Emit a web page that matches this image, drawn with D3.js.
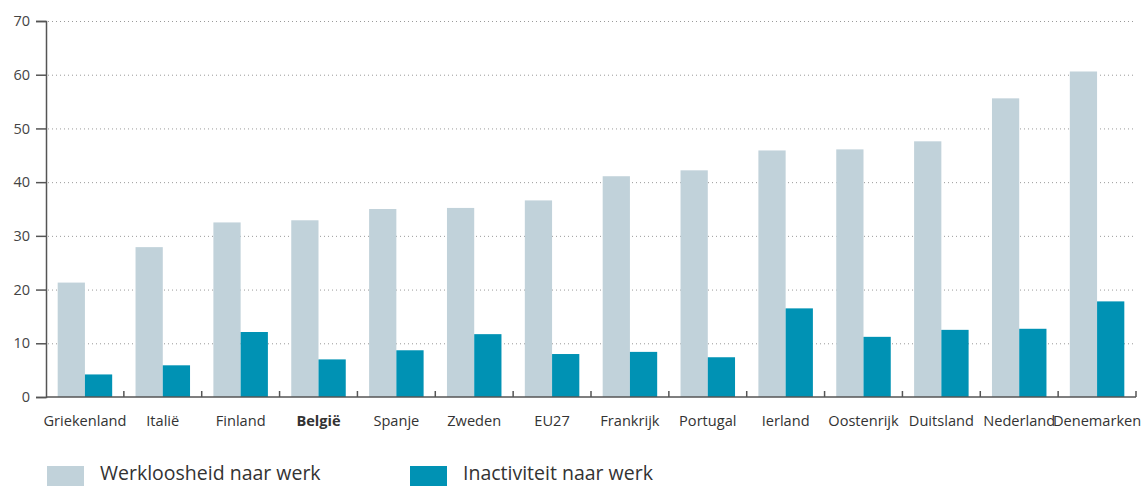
<!DOCTYPE html>
<html>
<head>
<meta charset="utf-8">
<script src="https://cdn.jsdelivr.net/npm/d3@7"></script>
<style>
  body { margin: 0; background: #fff; }
  text { font-family: "Open Sans", "Noto Sans", sans-serif; }
</style>
</head>
<body>
<svg id="chart"></svg>
<script>
const countries = ['Griekenland', 'Italië', 'Finland', 'België', 'Spanje', 'Zweden', 'EU27',
  'Frankrijk', 'Portugal', 'Ierland', 'Oostenrijk', 'Duitsland', 'Nederland', 'Denemarken']
const werkloosheid = [21.3, 27.9, 32.5, 32.9, 35.0, 35.2, 36.6, 41.1, 42.2, 45.9, 46.1, 47.6, 55.6, 60.6]
const inactiviteit = [4.2, 5.9, 12.1, 7.0, 8.7, 11.7, 8.0, 8.4, 7.4, 16.5, 11.2, 12.5, 12.7, 17.8]
const seriesNames = ['Werkloosheid naar werk', 'Inactiviteit naar werk']
const yTicks = [0, 10, 20, 30, 40, 50, 60, 70]

const width = 1142
const height = 486
const margin = {top: 21, right: 6, bottom: 89, left: 46}
const colors = ['#c1d2da', '#0092b4']

const svg = d3.select('#chart').attr('width', width).attr('height', height)

const x = d3.scaleBand()
  .domain(countries)
  .range([margin.left, width - margin.right])
  .paddingInner(0.3)
  .paddingOuter(0.15)

const x1 = d3.scaleBand()
  .domain([0, 1])
  .range([0, x.bandwidth()])

const y = d3.scaleLinear()
  .domain([0, 70])
  .range([height - margin.bottom, margin.top])

// grid lines
svg.append('g')
  .selectAll('line')
  .data(yTicks.filter(d => d > 0))
  .join('line')
  .attr('x1', margin.left + 2)
  .attr('x2', width - margin.right)
  .attr('y1', d => y(d) + 0.5)
  .attr('y2', d => y(d) + 0.5)
  .attr('stroke', '#9a9a9a')
  .attr('stroke-width', 1)
  .attr('stroke-dasharray', '1,3')

// bars
const rows = countries.map((c, i) => ({c, v: [werkloosheid[i], inactiviteit[i]]}))
svg.append('g')
  .selectAll('g')
  .data(rows)
  .join('g')
  .attr('transform', d => `translate(${x(d.c)},0)`)
  .selectAll('rect')
  .data(d => d.v.map((v, k) => ({v, k})))
  .join('rect')
  .attr('x', d => x1(d.k))
  .attr('width', x1.bandwidth())
  .attr('y', d => y(d.v))
  .attr('height', d => y(0) - y(d.v))
  .attr('fill', d => colors[d.k])

// y axis
const yAxis = svg.append('g')
  .attr('transform', `translate(${margin.left},0)`)
  .call(d3.axisLeft(y).tickValues(yTicks).tickSize(10).tickPadding(6))
yAxis.select('.domain').attr('stroke', '#555').attr('stroke-width', 1.5)
yAxis.selectAll('.tick line').attr('stroke', '#555').attr('stroke-width', 1.5)
yAxis.selectAll('.tick text').attr('fill', '#444').attr('font-size', 14.5)
  .attr('font-family', '"Open Sans", "Noto Sans", sans-serif')

// x axis line and separators
const step = x.step()
svg.append('line')
  .attr('x1', margin.left).attr('x2', width - margin.right)
  .attr('y1', y(0)).attr('y2', y(0))
  .attr('stroke', '#555').attr('stroke-width', 1.5)
svg.append('g')
  .selectAll('line')
  .data(countries)
  .join('line')
  .attr('x1', d => x(d) + x.bandwidth() + (step - x.bandwidth()) / 2)
  .attr('x2', d => x(d) + x.bandwidth() + (step - x.bandwidth()) / 2)
  .attr('y1', y(0) - 6)
  .attr('y2', y(0))
  .attr('stroke', '#555').attr('stroke-width', 1.5)

// category labels
svg.append('g')
  .selectAll('text')
  .data(countries)
  .join('text')
  .attr('x', d => x(d) + x.bandwidth() / 2)
  .attr('y', y(0) + 29)
  .attr('text-anchor', 'middle')
  .attr('font-size', 14.6)
  .attr('fill', '#333')
  .attr('font-weight', d => d === 'België' ? 'bold' : 'normal')
  .text(d => d)

// legend
const legend = svg.append('g')
  .selectAll('g')
  .data(seriesNames)
  .join('g')
  .attr('transform', (d, i) => `translate(${47 + i * 363},466)`)
legend.append('rect')
  .attr('width', 37).attr('height', 24)
  .attr('fill', (d, i) => colors[i])
legend.append('text')
  .attr('x', 53)
  .attr('y', 14)
  .attr('font-size', 19.5)
  .attr('fill', '#333')
  .text(d => d)
</script>
</body>
</html>
